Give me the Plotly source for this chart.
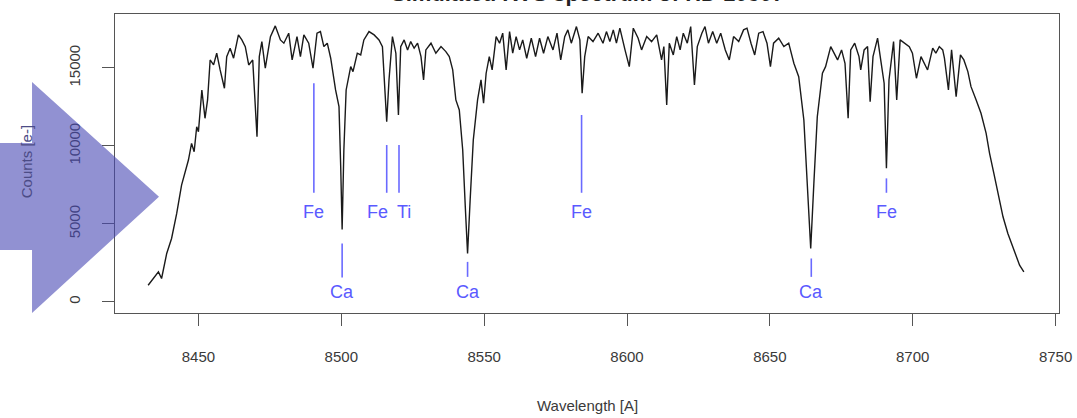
import plotly.graph_objects as go

# ---------------- data ----------------
wl_a = [8432.4, 8436.0, 8437.1, 8438.9, 8440.6, 8442.4, 8444.1, 8446.5, 8447.6, 8448.5,
        8449.4, 8450.0, 8451.2, 8452.3, 8453.2, 8454.1, 8455.3, 8456.4, 8457.6, 8459.1,
        8459.9, 8461.1, 8462.3, 8464.0, 8465.2, 8466.4, 8467.6, 8469.0, 8470.5, 8471.3,
        8472.2, 8473.4, 8475.2, 8476.9, 8478.7, 8479.9, 8481.6]
flux_a = [1072, 1925, 1502, 3106, 4069, 5673, 7490, 9094, 10166, 9627,
          11232, 10911, 13587, 11771, 12945, 15512, 15191, 15942, 14870, 13696,
          15724, 16263, 15621, 17117, 16796, 16366, 15191, 15512, 10590, 15724,
          16687, 14980, 17008, 17694, 16796, 16584, 17226]

wl_b = [8482.8, 8484.5, 8485.7, 8486.9, 8488.6, 8490.1, 8491.5, 8492.7, 8493.9, 8495.1,
        8496.3, 8498.0, 8499.2, 8499.8, 8500.3, 8500.9, 8501.7, 8503.3, 8504.1, 8505.6,
        8506.8, 8507.9, 8509.7, 8511.5, 8513.2, 8514.4, 8515.2, 8515.9, 8516.7, 8517.9,
        8519.1, 8520.0, 8520.8, 8522.0, 8523.2, 8524.3, 8525.5, 8526.7, 8527.9, 8528.8,
        8529.6, 8531.4, 8533.1, 8534.9, 8536.6, 8537.8]
flux_b = [15512, 17008, 15724, 17117, 16584, 14980, 17226, 17329, 16366, 16584,
          15621, 13587, 12515, 8664, 4647, 9736, 13587, 15082, 14761, 15942,
          15833, 16796, 17329, 17117, 16796, 16366, 13799, 11552, 14229, 17008,
          15942, 11982, 16366, 16796, 16154, 16687, 16263, 16584, 15724, 14229,
          16154, 16584, 15942, 16366, 16045, 15724]

wl_c = [8539.0, 8540.1, 8541.3, 8542.5, 8543.4, 8544.2, 8545.1, 8546.2, 8547.7, 8548.9,
        8549.8, 8550.7, 8551.8, 8552.8, 8554.2, 8555.4, 8556.5, 8557.7, 8558.9, 8560.0,
        8561.2, 8562.4, 8563.5, 8564.9, 8566.5, 8568.0, 8569.4, 8570.8, 8572.3, 8574.1,
        8575.5, 8576.8, 8578.2, 8579.3, 8580.5, 8582.3, 8583.5, 8584.3, 8585.2, 8586.4,
        8588.1, 8589.9, 8591.6, 8592.8, 8594.0]
flux_c = [14870, 12945, 12303, 9736, 6097, 3106, 6527, 10378, 12945, 14229,
          12733, 14659, 15724, 14870, 17008, 16584, 17226, 14870, 17329, 15942,
          17008, 16154, 16796, 15621, 16905, 15724, 16905, 15942, 17008, 16154,
          17226, 15512, 17008, 17438, 16584, 17650, 16796, 13375, 15724, 17008,
          16687, 17226, 16584, 17329, 16687]

wl_d = [8595.2, 8596.3, 8597.5, 8599.3, 8600.8, 8602.2, 8603.9, 8605.1, 8606.9, 8608.6,
        8610.4, 8612.1, 8612.9, 8613.9, 8614.8, 8616.2, 8617.4, 8618.6, 8619.7, 8621.1,
        8622.3, 8623.6, 8624.6, 8626.2, 8627.3, 8628.5, 8630.0, 8631.4, 8632.8, 8634.4,
        8635.8, 8637.3, 8639.1, 8640.8, 8642.0, 8643.4, 8644.7, 8646.1, 8647.6, 8649.0,
        8650.2]
flux_d = [17438, 16584, 17547, 16154, 15082, 17547, 16905, 16154, 17008, 16687,
          17117, 15512, 16366, 12624, 16584, 15833, 17008, 16154, 17226, 16584,
          17650, 13908, 16366, 17226, 17650, 16584, 17329, 16584, 17226, 16154,
          15512, 17008, 16687, 17438, 17547, 16584, 15833, 17226, 17329, 16584,
          15082]

wl_e = [8651.3, 8653.1, 8654.9, 8656.6, 8658.4, 8660.1, 8661.9, 8663.1, 8664.3, 8665.4,
        8666.6, 8668.4, 8669.5, 8671.3, 8672.5, 8673.7, 8675.1, 8676.3, 8677.4, 8678.3,
        8679.7, 8681.2, 8681.8, 8683.0, 8684.2, 8685.1, 8686.1, 8687.7, 8688.8, 8690.0,
        8690.8, 8691.7, 8693.3, 8694.4, 8695.6, 8697.0, 8698.8, 8699.9, 8701.3, 8702.9]
flux_e = [16584, 16905, 16366, 16584, 15300, 14441, 11661, 7599, 3427, 7599,
          11873, 14659, 15082, 16366, 15942, 15512, 16154, 15300, 11771, 16154,
          16584, 15724, 14870, 16154, 16366, 12836, 15724, 16905, 15512, 14017,
          8562, 14229, 16687, 12945, 16796, 16584, 16366, 15942, 14338, 15724]

wl_f = [8705.2, 8707.0, 8708.1, 8709.3, 8710.5, 8711.1, 8712.5, 8713.6, 8715.2, 8716.7,
        8717.9, 8719.3, 8720.4, 8722.2, 8723.9, 8725.7, 8726.9, 8728.4, 8730.0, 8731.6,
        8733.3, 8735.6, 8737.4, 8738.9]
flux_f = [14870, 16263, 15942, 16366, 16154, 15621, 13587, 16154, 13157, 15833,
          15512, 14761, 13799, 12945, 12092, 10808, 9524, 8241, 6739, 5455,
          4390, 3209, 2355, 1925]

wavelength = wl_a + wl_b + wl_c + wl_d + wl_e + wl_f
counts = flux_a + flux_b + flux_c + flux_d + flux_e + flux_f

# line identifications
line_names = ["Fe", "Ca", "Fe", "Ti", "Ca", "Fe", "Ca", "Fe"]
line_wl = [8490.4, 8500.3, 8515.9, 8520.2, 8544.2, 8584.1, 8664.5, 8690.8]
line_top = [14017, 3748, 10057, 10057, 2567, 11982, 2785, 7920]
line_bottom = [6996, 1566, 6996, 6996, 1605, 6996, 1605, 6996]
label_wl = [8490.4, 8500.4, 8512.5, 8522.0, 8544.2, 8584.2, 8664.5, 8690.8]
label_y = [5776, 642, 5776, 5776, 642, 5776, 642, 5776]

x_ticks = [8450, 8500, 8550, 8600, 8650, 8700, 8750]
y_ticks = [0, 5000, 10000, 15000]

title_text = "Simulated RVS spectrum of HD 10307"
x_title = "Wavelength [A]"
y_title = "Counts [e-]"

# ---------------- figure ----------------
fig = go.Figure()

fig.add_trace(go.Scatter(
    x=wavelength, y=counts, mode="lines",
    line=dict(color="#1a1a1a", width=1.4),
    hoverinfo="skip", showlegend=False))

seg_x, seg_y = [], []
for xw, t, b in zip(line_wl, line_top, line_bottom):
    seg_x += [xw, xw, None]
    seg_y += [t, b, None]
fig.add_trace(go.Scatter(
    x=seg_x, y=seg_y, mode="lines",
    line=dict(color="#6a6aff", width=1.6),
    hoverinfo="skip", showlegend=False))

for name, xw, yv in zip(line_names, label_wl, label_y):
    fig.add_annotation(x=xw, y=yv, xref="x", yref="y", text=name,
                       showarrow=False, xanchor="center", yanchor="middle",
                       font=dict(size=18, color="#5a5aff",
                                 family="Liberation Sans, Arial, sans-serif"))

axis_common = dict(
    showline=True, mirror=True, linecolor="#555555", linewidth=1,
    ticks="outside", ticklen=12, tickwidth=1, tickcolor="#555555",
    showgrid=False, zeroline=False, automargin=False,
    tickfont=dict(size=15, color="#3a3a3a",
                  family="Liberation Sans, Arial, sans-serif"),
)

fig.update_xaxes(range=[8420.8, 8751.2], tickvals=x_ticks,
                 ticktext=[str(v) for v in x_ticks],
                 ticklabelstandoff=18, **axis_common)
fig.update_yaxes(range=[-710, 18456], tickvals=y_ticks,
                 ticktext=[str(v) for v in y_ticks], tickangle=-90,
                 ticklabelstandoff=16, **axis_common)

# title (cut off at the top edge, as in the reference)
fig.add_annotation(x=0.5, y=1.068, xref="paper", yref="paper", text=title_text,
                   showarrow=False, xanchor="center", yanchor="middle",
                   font=dict(size=22, color="#222222",
                             family="Liberation Sans, Arial, sans-serif",
                             weight="bold"))

# axis titles
fig.add_annotation(x=0.5, y=-0.3077, xref="paper", yref="paper", text=x_title,
                   showarrow=False, xanchor="center", yanchor="middle",
                   font=dict(size=15, color="#3a3a3a",
                             family="Liberation Sans, Arial, sans-serif"))
fig.add_annotation(x=-0.094, y=0.505, xref="paper", yref="paper", text=y_title,
                   textangle=-90, showarrow=False, xanchor="center",
                   yanchor="middle",
                   font=dict(size=15, color="#4c4c86",
                             family="Liberation Sans, Arial, sans-serif"))

# big translucent arrow on the left
arrow_path = ("M -0.13 0.5686 L -0.0879 0.5686 L -0.0879 0.7726 "
              "L 0.0466 0.3890 L -0.0879 0.0 L -0.0879 0.2107 "
              "L -0.13 0.2107 Z")
fig.add_shape(type="path", path=arrow_path, xref="paper", yref="paper",
              fillcolor="rgba(72,72,180,0.6)", line=dict(width=0),
              layer="above")

fig.update_layout(
    width=1077, height=418,
    margin=dict(l=115, r=18, t=14, b=105, autoexpand=False),
    plot_bgcolor="white", paper_bgcolor="white",
    showlegend=False,
)

# remove the default page margin so the figure starts at the window corner
fig.write_html("out.html",
               config={"displayModeBar": False},
               post_script="document.body.style.margin='0px';")
